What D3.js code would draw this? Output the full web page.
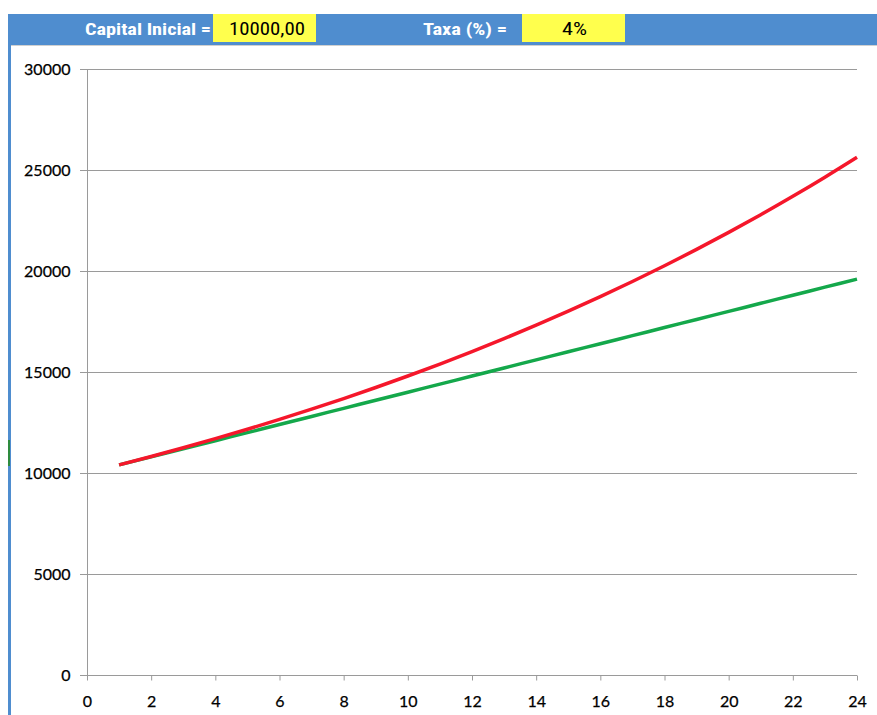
<!DOCTYPE html>
<html><head><meta charset="utf-8">
<script src="https://cdn.jsdelivr.net/npm/d3@7"></script>
<style>body{margin:0;background:#fff}svg{display:block}</style>
</head><body>
<svg id="c" width="877" height="715"></svg>
<script>
const periods = [1,2,3,4,5,6,7,8,9,10,11,12,13,14,15,16,17,18,19,20,21,22,23,24];
const simpleInterest = [10400,10800,11200,11600,12000,12400,12800,13200,13600,14000,14400,14800,15200,15600,16000,16400,16800,17200,17600,18000,18400,18800,19200,19600];
const compoundInterest = [10400,10816,11249,11699,12167,12653,13159,13686,14233,14802,15395,16010,16651,17317,18009,18730,19479,20258,21068,21911,22788,23699,24647,25633];
const xTicks = [0,2,4,6,8,10,12,14,16,18,20,22,24];
const yTicks = [0,5000,10000,15000,20000,25000,30000];
const headerLabels = ["Capital Inicial =", "Taxa (%) ="];
const headerValues = ["10000,00", "4%"];

const svg = d3.select("#c");
// header bar
svg.append("rect").attr("x",8).attr("y",14).attr("width",869).attr("height",31).attr("fill","#4f8dcf");
svg.append("rect").attr("x",8).attr("y",14).attr("width",3).attr("height",701).attr("fill","#4f8dcf");
svg.append("rect").attr("x",8).attr("y",440).attr("width",2).attr("height",26).attr("fill","#2e8b3e");
svg.append("line").attr("x1",11).attr("x2",877).attr("y1",45.5).attr("y2",45.5).attr("stroke","#d0d0d0");
const hdrFont = "'Liberation Sans Narrow','Roboto Condensed','Liberation Sans',sans-serif";
svg.append("text").attr("x",85).attr("y",35).attr("fill","#fff").attr("font-weight","bold")
  .attr("font-family",hdrFont).attr("font-size",16).attr("textLength",126).attr("lengthAdjust","spacingAndGlyphs").text(headerLabels[0]);
svg.append("text").attr("x",423).attr("y",35).attr("fill","#fff").attr("font-weight","bold")
  .attr("font-family",hdrFont).attr("font-size",16).attr("textLength",84).attr("lengthAdjust","spacingAndGlyphs").text(headerLabels[1]);
svg.append("rect").attr("x",213).attr("y",14).attr("width",103).attr("height",28).attr("fill","#ffff4d");
svg.append("rect").attr("x",522).attr("y",14).attr("width",103).attr("height",28).attr("fill","#ffff4d");
svg.append("text").attr("x",229).attr("y",35).attr("fill","#000")
  .attr("font-family",hdrFont).attr("font-size",18).attr("textLength",76).attr("lengthAdjust","spacingAndGlyphs").text(headerValues[0]);
svg.append("text").attr("x",562).attr("y",35).attr("fill","#000")
  .attr("font-family",hdrFont).attr("font-size",18).attr("textLength",25).attr("lengthAdjust","spacingAndGlyphs").text(headerValues[1]);

const x = d3.scaleLinear().domain([0,24]).range([87,857]);
const y = d3.scaleLinear().domain([0,30000]).range([675,69]);
const font = "Lato,'Open Sans',sans-serif";

// gridlines
svg.append("g").selectAll("line").data(yTicks).join("line")
  .attr("x1",80).attr("x2",857).attr("y1",d=>Math.round(y(d))+0.5).attr("y2",d=>Math.round(y(d))+0.5)
  .attr("stroke","#9a9a9a").attr("stroke-width",1);

const yAxis = svg.append("g").attr("transform","translate(87.5,0)")
  .call(d3.axisLeft(y).tickValues(yTicks).tickSize(0).tickPadding(17).tickFormat(d3.format("d")));
yAxis.select(".domain").attr("stroke","#9a9a9a").attr("d","M0,"+y(30000)+"V"+y(0));
yAxis.selectAll("text").attr("font-family",font).attr("font-size",16).attr("fill","#000").attr("stroke","#000").attr("stroke-width",0.25);

const xAxis = svg.append("g").attr("transform","translate(0,"+(Math.round(y(0))+0.5)+")")
  .call(d3.axisBottom(x).tickValues(xTicks).tickSize(5).tickPadding(15).tickFormat(d3.format("d")));
xAxis.select(".domain").attr("stroke","#9a9a9a").attr("d","M"+x(0)+",0H"+x(24));
xAxis.selectAll("line").attr("stroke","#9a9a9a");
xAxis.selectAll("text").attr("font-family",font).attr("font-size",16).attr("fill","#000").attr("stroke","#000").attr("stroke-width",0.25);

const line = d3.line().x((d,i)=>x(periods[i])).y(d=>y(d)).curve(d3.curveMonotoneX);
svg.append("path").datum(simpleInterest).attr("d",line).attr("fill","none").attr("stroke","#14a84b").attr("stroke-width",3.5);
svg.append("path").datum(compoundInterest).attr("d",line).attr("fill","none").attr("stroke","#f5172b").attr("stroke-width",3.5);
</script>
</body></html>
